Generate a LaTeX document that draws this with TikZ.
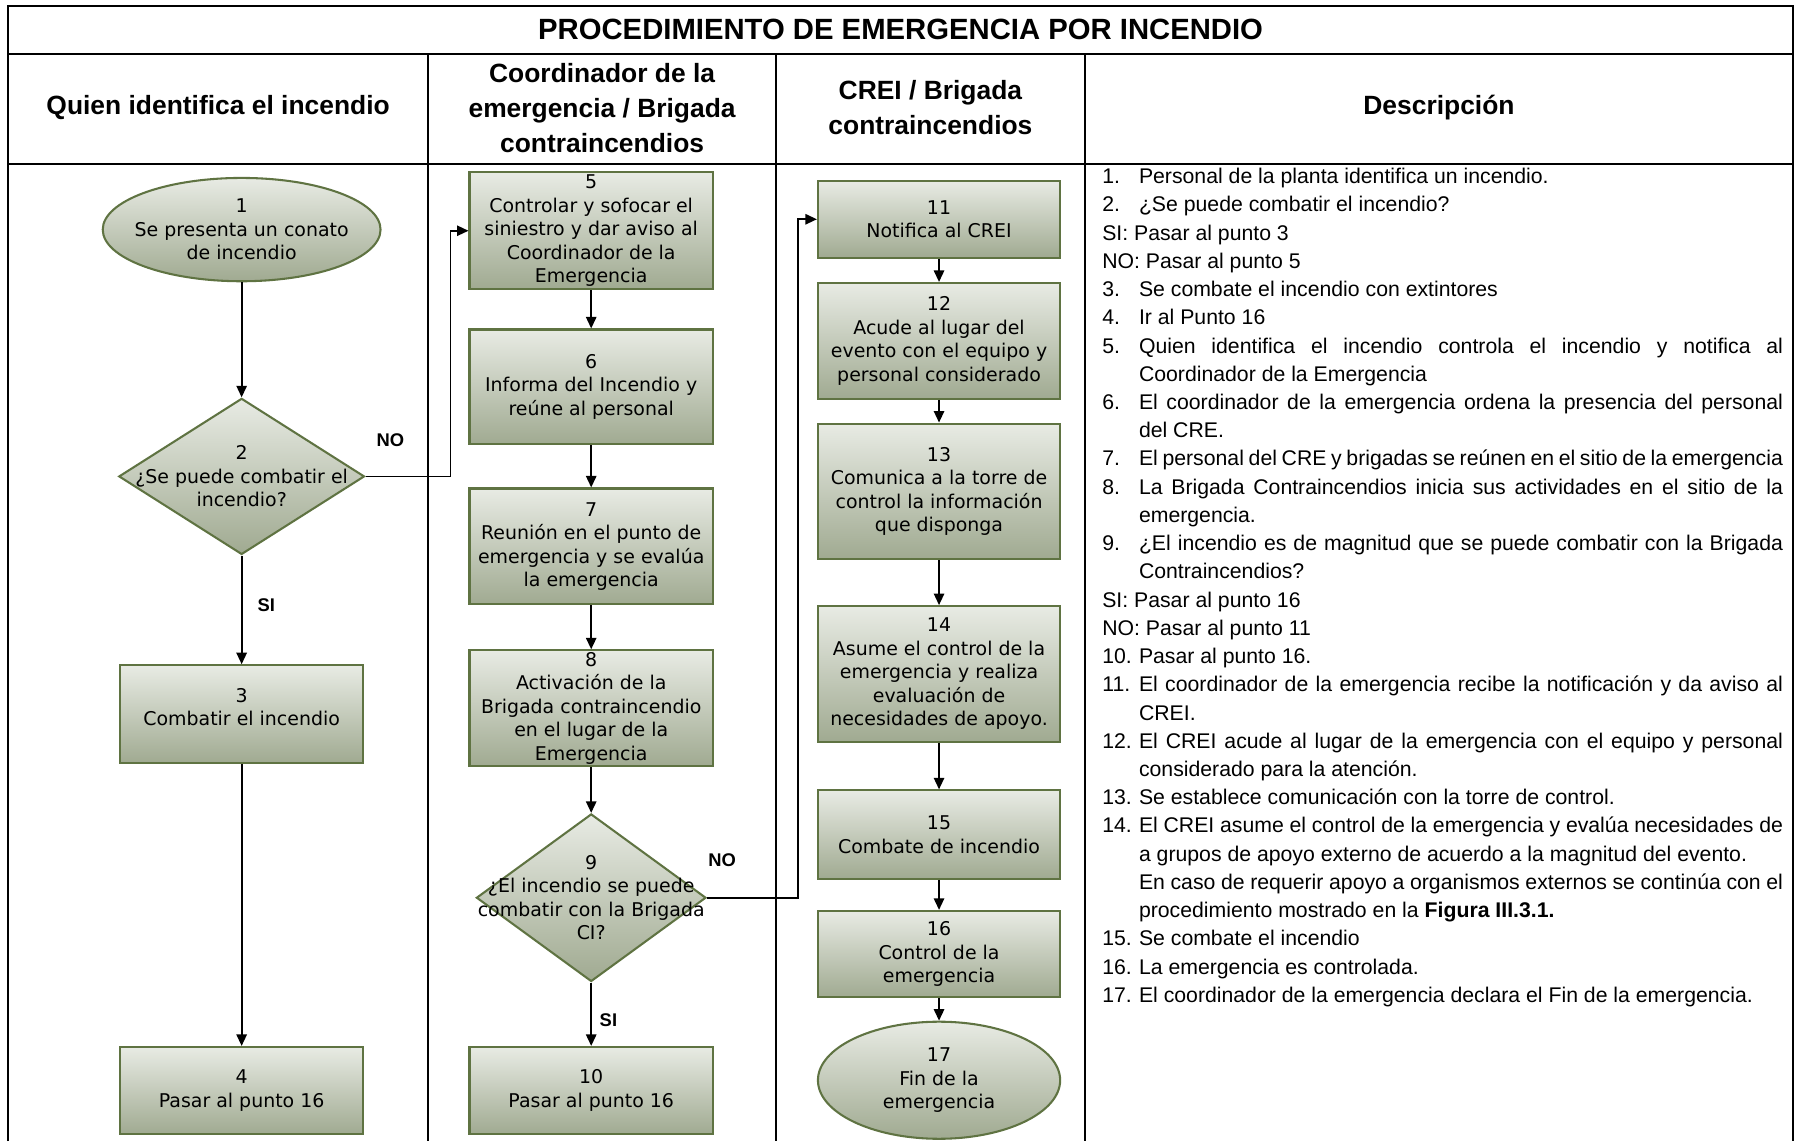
\documentclass[tikz,border=0pt]{standalone}
\usepackage{fontspec}
\setmainfont{Liberation Sans}
\newfontfamily\boxfont{DejaVu Sans}
\usetikzlibrary{shapes.geometric,arrows.meta}

\definecolor{boxtop}{RGB}{232,235,228}
\definecolor{boxbot}{RGB}{160,170,145}
\definecolor{boxline}{RGB}{95,115,66}

% numbered entry and justified line of the description column
\newcommand{\dnum}[1]{\makebox[32pt][l]{#1}}
\newcommand{\djust}[1]{\makebox[561pt][s]{#1}}

\begin{document}
\begin{tikzpicture}[x=1pt,y=-1pt,
  rule/.style={line width=1.8pt},
  proc/.style={rectangle, draw=boxline, line width=1.8pt,
    top color=boxtop, bottom color=boxbot, inner sep=0pt, align=center,
    font={\boxfont\fontsize{16.5pt}{20.5pt}\selectfont}},
  term/.style={ellipse, draw=boxline, line width=1.8pt,
    top color=boxtop, bottom color=boxbot, inner sep=0pt},
  decis/.style={diamond, draw=boxline, line width=1.8pt,
    top color=boxtop, bottom color=boxbot, inner sep=0pt},
  dtext/.style={align=center, inner sep=0pt,
    font={\boxfont\fontsize{16.5pt}{20.5pt}\selectfont}},
  arr/.style={line width=1.5pt, -{Triangle[length=10pt,width=9pt]}},
  yn/.style={inner sep=0pt, font={\bfseries\fontsize{16pt}{18pt}\selectfont}},
  head/.style={inner sep=0pt, align=center,
    font={\bfseries\fontsize{23pt}{30.5pt}\selectfont}},
  desc/.style={anchor=base west, inner sep=0pt,
    font={\fontsize{18.5pt}{24.5pt}\selectfont}},
]
\useasboundingbox (0,0) rectangle (1568,994);

% ---- table frame ----
\draw[rule] (7,994) -- (7,5) -- (1562,5) -- (1562,994);
\draw[rule] (7,47) -- (1562,47);
\draw[rule] (7,143) -- (1562,143);
\draw[rule] (373,47) -- (373,994);
\draw[rule] (676,47) -- (676,994);
\draw[rule] (945,47) -- (945,994);

% ---- titles ----
\node[inner sep=0pt, font={\bfseries\fontsize{25.5pt}{28pt}\selectfont}] (title) at (784.5,26)
  {PROCEDIMIENTO DE EMERGENCIA POR INCENDIO};
\node[head] (h1) at (190,94) {Quien identifica el incendio};
\node[head] (h2) at (524.5,94) {Coordinador de la\\emergencia / Brigada\\contraincendios};
\node[head] (h3) at (810.5,94) {CREI / Brigada\\contraincendios};
\node[head] (h4) at (1253.5,94) {Descripción};

% ---- lane 1 ----
\node[term, minimum width=242pt, minimum height=90pt] (n1) at (210.5,200) {};
\node[dtext] (n1t) at (210.5,200) {1\\Se presenta un conato\\de incendio};
\node[decis, minimum width=214pt, minimum height=136pt] (n2) at (210.5,415) {};
\node[dtext] (n2t) at (210.5,415) {2\\¿Se puede combatir el\\incendio?};
\node[proc, minimum width=212pt, minimum height=85pt] (n3) at (210.5,622) {};
\node[dtext] (n3t) at (210.5,616) {3\\Combatir el incendio};
\node[proc, minimum width=212pt, minimum height=76pt] (n4) at (210.5,950)
  {4\\Pasar al punto 16};

% ---- lane 2 ----
\node[proc, minimum width=212pt, minimum height=102pt] (n5) at (515,201)
  {5\\Controlar y sofocar el\\siniestro y dar aviso al\\Coordinador de la\\Emergencia};
\node[proc, minimum width=212pt, minimum height=100pt] (n6) at (515,337)
  {6\\Informa del Incendio y\\reúne al personal};
\node[proc, minimum width=212pt, minimum height=101pt] (n7) at (515,476)
  {7\\Reunión en el punto de\\emergencia y se evalúa\\la emergencia};
\node[proc, minimum width=212pt, minimum height=101pt] (n8) at (515,617)
  {8\\Activación de la\\Brigada contraincendio\\en el lugar de la\\Emergencia};
\node[decis, minimum width=200pt, minimum height=146pt] (n9) at (515,782) {};
\node[dtext] (n9t) at (515,782) {9\\¿El incendio se puede\\combatir con la Brigada\\CI?};
\node[proc, minimum width=212pt, minimum height=76pt] (n10) at (515,950)
  {10\\Pasar al punto 16};

% ---- lane 3 ----
\node[proc, minimum width=211pt, minimum height=67pt] (n11) at (818,191)
  {11\\Notifica al CREI};
\node[proc, minimum width=211pt, minimum height=101pt] (n12) at (818,297)
  {12\\Acude al lugar del\\evento con el equipo y\\personal considerado};
\node[proc, minimum width=211pt, minimum height=118pt] (n13) at (818,428)
  {13\\Comunica a la torre de\\control la información\\que disponga};
\node[proc, minimum width=211pt, minimum height=118pt] (n14) at (818,587)
  {14\\Asume el control de la\\emergencia y realiza\\evaluación de\\necesidades de apoyo.};
\node[proc, minimum width=211pt, minimum height=77pt] (n15) at (818,727)
  {15\\Combate de incendio};
\node[proc, minimum width=211pt, minimum height=75pt] (n16) at (818,831)
  {16\\Control de la\\emergencia};
\node[term, minimum width=211pt, minimum height=102pt] (n17) at (818,941) {};
\node[dtext] (n17t) at (818,941) {17\\Fin de la\\emergencia};

% ---- connectors ----
\draw[arr] (n1) -- (n2);
\draw[arr] (n2) -- (n3);
\draw[arr] (n3) -- (n4);
\draw[arr] (n2.east) -- ++(74,0) |- (n5.west);
\draw[arr] (n5) -- (n6);
\draw[arr] (n6) -- (n7);
\draw[arr] (n7) -- (n8);
\draw[arr] (n8) -- (n9);
\draw[arr] (n9) -- (n10);
\draw[arr] (n9.east) -- ++(79,0) |- (n11.west);
\draw[arr] (n11) -- (n12);
\draw[arr] (n12) -- (n13);
\draw[arr] (n13) -- (n14);
\draw[arr] (n14) -- (n15);
\draw[arr] (n15) -- (n16);
\draw[arr] (n16) -- (n17);

\node[yn] (no2) at (340,383) {NO};
\node[yn] (si2) at (232,527) {SI};
\node[yn] (no9) at (629,749) {NO};
\node[yn] (si9) at (530,889) {SI};

% ---- description ----
\node[desc] (d01) at (960,160.0) {\dnum{1.}Personal de la planta identifica un incendio.};
\node[desc] (d02) at (960,184.6) {\dnum{2.}¿Se puede combatir el incendio?};
\node[desc] (d03) at (960,209.2) {SI: Pasar al punto 3};
\node[desc] (d04) at (960,233.8) {NO: Pasar al punto 5};
\node[desc] (d05) at (960,258.4) {\dnum{3.}Se combate el incendio con extintores};
\node[desc] (d06) at (960,283.0) {\dnum{4.}Ir al Punto 16};
\node[desc] (d07) at (960,307.5) {\dnum{5.}\djust{Quien identifica el incendio controla el incendio y notifica al}};
\node[desc] (d08) at (992,332.1) {Coordinador de la Emergencia};
\node[desc] (d09) at (960,356.7) {\dnum{6.}\djust{El coordinador de la emergencia ordena la presencia del personal}};
\node[desc] (d10) at (992,381.3) {del CRE.};
\node[desc] (d11) at (960,405.9) {\dnum{7.}\djust{El personal del CRE y brigadas se reúnen en el sitio de la emergencia}};
\node[desc] (d12) at (960,430.5) {\dnum{8.}\djust{La Brigada Contraincendios inicia sus actividades en el sitio de la}};
\node[desc] (d13) at (992,455.1) {emergencia.};
\node[desc] (d14) at (960,479.7) {\dnum{9.}\djust{¿El incendio es de magnitud que se puede combatir con la Brigada}};
\node[desc] (d15) at (992,504.3) {Contraincendios?};
\node[desc] (d16) at (960,528.9) {SI: Pasar al punto 16};
\node[desc] (d17) at (960,553.4) {NO: Pasar al punto 11};
\node[desc] (d18) at (960,578.0) {\dnum{10.}Pasar al punto 16.};
\node[desc] (d19) at (960,602.6) {\dnum{11.}\djust{El coordinador de la emergencia recibe la notificación y da aviso al}};
\node[desc] (d20) at (992,627.2) {CREI.};
\node[desc] (d21) at (960,651.8) {\dnum{12.}\djust{El CREI acude al lugar de la emergencia con el equipo y personal}};
\node[desc] (d22) at (992,676.4) {considerado para la atención.};
\node[desc] (d23) at (960,701.0) {\dnum{13.}Se establece comunicación con la torre de control.};
\node[desc] (d24) at (960,725.6) {\dnum{14.}\djust{El CREI asume el control de la emergencia y evalúa necesidades de}};
\node[desc] (d25) at (992,750.2) {a grupos de apoyo externo de acuerdo a la magnitud del evento.};
\node[desc] (d26) at (992,774.8) {\djust{En caso de requerir apoyo a organismos externos se continúa con el}};
\node[desc] (d27) at (992,799.3) {procedimiento mostrado en la \textbf{Figura III.3.1.}};
\node[desc] (d28) at (960,823.9) {\dnum{15.}Se combate el incendio};
\node[desc] (d29) at (960,848.5) {\dnum{16.}La emergencia es controlada.};
\node[desc] (d30) at (960,873.1) {\dnum{17.}El coordinador de la emergencia declara el Fin de la emergencia.};
\end{tikzpicture}
\end{document}
